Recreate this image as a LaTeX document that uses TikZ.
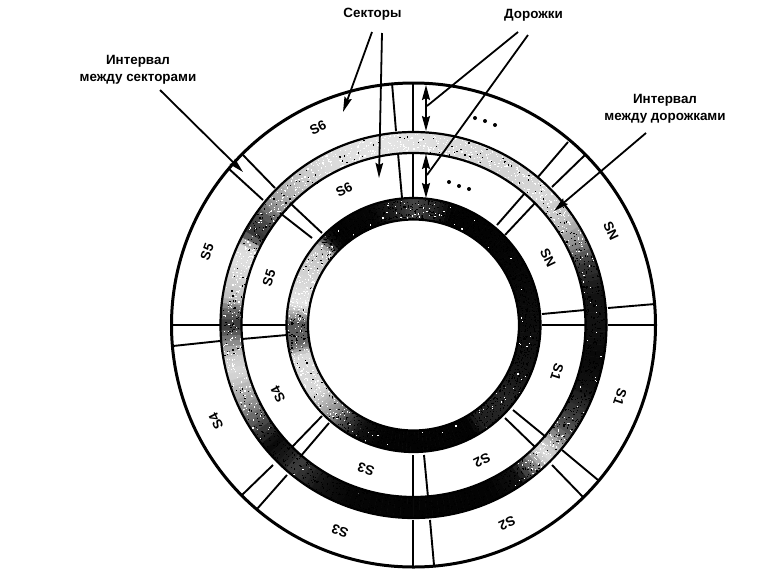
\documentclass[tikz,border=0pt]{standalone}
\usepackage{fontspec}
\setmainfont{Liberation Sans}
\newfontfamily\labfont{Liberation Sans Bold}
\usetikzlibrary{arrows.meta}
\tikzset{
  callout/.style={font=\labfont\fontsize{13.4}{17}\selectfont,align=center,inner sep=0pt},
  sect/.style={font=\labfont\fontsize{13.5}{13.5}\selectfont,inner sep=0pt},
  pointer/.style={line width=1.8pt,-{Stealth[length=15pt,width=7.5pt,inset=2pt]}},
  leader/.style={line width=1.8pt},
  twoway/.style={line width=1.8pt,{Stealth[length=15pt,width=8pt,inset=2pt]}-{Stealth[length=15pt,width=8pt,inset=2pt]}},
  divider/.style={line width=1.9pt},
  rim/.style={line width=2.2pt},
}
\newcommand\bandring[3]{%
  \foreach \a/\d [remember=\a as \pa (initially -180), remember=\d as \pd (initially 65)] in {#3}{%
    \pgfmathtruncatemacro\nn{round((\a-\pa)/2)}%
    \ifnum\nn>0
      \pgfmathtruncatemacro\nl{\nn-1}%
      \foreach \t in {0,...,\nl}{%
        \pgfmathsetmacro\aa{\pa+(\a-\pa)*\t/\nn}%
        \pgfmathsetmacro\ab{\pa+(\a-\pa)*(\t+1)/\nn}%
        \pgfmathsetmacro\dd{\pd+(\d-\pd)*(\t+0.5)/\nn}%
        \filldraw[black!\dd!white,line width=0.5pt] (-\aa:#1) -- (-\ab:#1) -- (-\ab:#2) -- (-\aa:#2) -- cycle;
        \foreach \k in {1,...,10}{%
          \pgfmathsetmacro\ra{\aa+rnd*(\ab-\aa)}%
          \pgfmathsetmacro\rr{#2+rnd*(#1-#2-1.2)}%
          \pgfmathtruncatemacro\wh{rnd*100>\dd ? 1 : 0}%
          \ifnum\wh=1 \def\cc{white}\else\def\cc{black}\fi
          \fill[\cc] (-\ra:\rr) rectangle +(1.2,1.2);
        }
      }
    \fi
  }%
}
\begin{document}
\begin{tikzpicture}[x=1pt,y=-1pt]
\pgfmathsetseed{4242}
\useasboundingbox (0,0) rectangle (777,574);
\fill[white] (0,0) rectangle (777,574);

\begin{scope}[shift={(413.5,325)}]
  \bandring{193}{172}{-180/80,-175/50,-170/20,-165/15,-155/40,-146/75,-140/97,-133/88,-130/75,-120/93,-110/98,-90/99,-65/99,-55/93,-50/55,-45/12,-40/28,-35/65,-30/75,-20/93,-10/97,0/93,10/93,20/78,27/45,35/25,45/15,60/18,90/12,100/10,120/15,130/25,139/40,145/70,151/80,155/15,160/12,172/25,175/55,180/80}
  \bandring{127}{105.5}{-170/60,-165/15,-145/15,-132/45,-125/72,-117/93,-105/99,-60/99,-56/88,-40/85,-20/93,0/95,30/98,60/99,72/99,80/85,90/72,100/88,110/98,130/99,135/93,140/25,170/10,175/35,180/70}
  \draw[line width=3pt] (0,0) circle[radius=242pt];
  \draw[rim] (0,0) circle[radius=193pt];
  \draw[rim] (0,0) circle[radius=172pt];
  \draw[rim] (0,0) circle[radius=127pt];
  \draw[rim] (0,0) circle[radius=105.5pt];
\end{scope}

% sector gaps, outer and inner tracks
\draw[divider] (392,83) -- (396,131) (413,83) -- (413,131) (398,153) -- (402,198) (413,153) -- (413,198);
\draw[divider] (568,142) -- (538,177) (585,155) -- (552,187) (525,193) -- (497,225) (535,203) -- (505,235);
\draw[divider] (608,308) -- (655,304) (608,325) -- (655,325) (542,314) -- (585,310) (542,325) -- (585,325);
\draw[divider] (562,450) -- (598,480) (552,465) -- (583,497) (513,410) -- (546,437) (505,418) -- (535,447);
\draw[divider] (413,520) -- (413,566) (430,520) -- (434,565) (413,455) -- (413,497) (424,455) -- (428,497);
\draw[divider] (273,465) -- (242,495) (287,475) -- (257,509) (292,447) -- (322,416) (300,457) -- (329,423);
\draw[divider] (172,325) -- (220,325) (173,346) -- (220,341) (242,325) -- (287,325) (242,339) -- (287,335);
\draw[divider] (243,155) -- (275,188) (228,168) -- (263,200) (290,203) -- (322,233) (280,213) -- (312,238);

% sector labels
\node[sect,rotate=26] (a6) at (318,128) {S6};
\node[sect,rotate=27] (b6) at (344,190) {S6};
\node[sect,rotate=70] (a5) at (207,252) {S5};
\node[sect,rotate=72] (b5) at (269,278) {S5};
\node[sect,rotate=116] (a4) at (216,421) {S4};
\node[sect,rotate=117] (b4) at (278,394) {S4};
\node[sect,rotate=160] (a3) at (340,531) {S3};
\node[sect,rotate=162] (b3) at (366,469) {S3};
\node[sect,rotate=-155] (a2) at (507,523) {S2};
\node[sect,rotate=-153] (b2) at (482,460) {S2};
\node[sect,rotate=-109] (a1) at (620,397) {S1};
\node[sect,rotate=-108] (b1) at (557,372) {S1};
\node[sect,rotate=-65] (an) at (611,231) {SN};
\node[sect,rotate=-64] (bn) at (548,258) {SN};

% ellipses
\foreach \p in {(475,118),(485,121),(495,125),(449,182),(459,186),(469,189)}
  \fill \p circle[radius=2pt];

% callouts
\node[callout] (sectors) at (372.5,14) {Секторы};
\node[callout] (tracks) at (533.5,15) {Дорожки};
\node[callout] (secgap) at (138,69.5) {Интервал\\между секторами};
\node[callout] (trackgap) at (665,108.5) {Интервал\\между дорожками};

\coordinate (s1) at (372,32);
\coordinate (s1t) at (343,112);
\coordinate (s2) at (382,33);
\coordinate (s2t) at (379,178);
\coordinate (t1) at (518,32);
\coordinate (t1e) at (427,106);
\coordinate (t2) at (528,35);
\coordinate (t2e) at (427,175);
\coordinate (sg) at (160,90);
\coordinate (sgt) at (243,172);
\coordinate (tg) at (646,133);
\coordinate (tgt) at (554,211);
\coordinate (d1a) at (426,85);
\coordinate (d1b) at (426,131);
\coordinate (d2a) at (426,154);
\coordinate (d2b) at (426,198);

\draw[pointer] (s1) -- (s1t);
\draw[pointer] (s2) -- (s2t);
\draw[leader] (t1) -- (t1e);
\draw[leader] (t2) -- (t2e);
\draw[pointer] (sg) -- (sgt);
\draw[pointer] (tg) -- (tgt);
\draw[twoway] (d1a) -- (d1b);
\draw[twoway] (d2a) -- (d2b);
\end{tikzpicture}
\end{document}
